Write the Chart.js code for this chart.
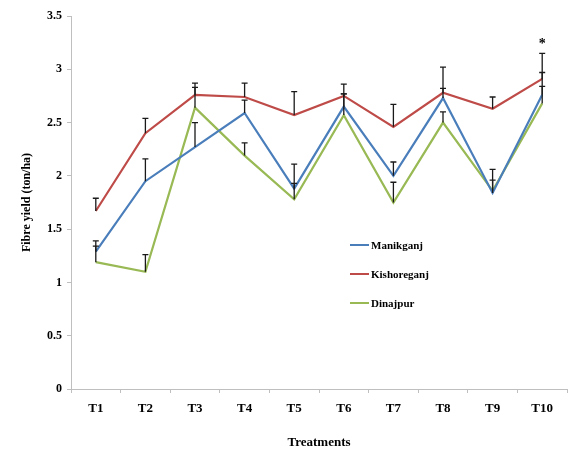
<!DOCTYPE html>
<html>
<head>
<meta charset="utf-8">
<script src="https://cdn.jsdelivr.net/npm/chart.js@4/dist/chart.umd.min.js"></script>
<style>
  html, body { margin: 0; padding: 0; background: #fff; }
  #wrap { width: 570px; height: 450px; }
</style>
</head>
<body>
<div id="wrap"><canvas id="fibreChart" width="570" height="450"></canvas></div>
<script>
// treatments on the x axis
const treatments = ['T1', 'T2', 'T3', 'T4', 'T5', 'T6', 'T7', 'T8', 'T9', 'T10'];

// mean fibre yield (ton/ha) per location
const manikganj   = [1.29, 1.95, 2.27, 2.59, 1.88, 2.65, 2.00, 2.73, 1.84, 2.76];
const kishoreganj = [1.67, 2.40, 2.76, 2.74, 2.57, 2.75, 2.46, 2.78, 2.63, 2.91];
const dinajpur    = [1.19, 1.10, 2.64, 2.19, 1.78, 2.57, 1.75, 2.50, 1.86, 2.68];

// upper error bars
const manikganjErr   = [0.10, 0.21, 0.23, 0.12, 0.23, 0.12, 0.13, 0.09, 0.12, 0.08];
const kishoreganjErr = [0.12, 0.14, 0.11, 0.13, 0.22, 0.11, 0.21, 0.24, 0.11, 0.24];
const dinajpurErr    = [0.15, 0.16, 0.19, 0.12, 0.15, 0.20, 0.19, 0.10, 0.20, 0.29];

// significance marks above each treatment
const significance = ['', '', '', '', '', '', '', '', '', '*'];

const serif = "'Liberation Serif', 'Times New Roman', serif";
const axisGray = '#bfbfbf';

// draws the upper error bars and the significance star
const errorBars = {
  id: 'errorBars',
  afterDatasetsDraw(chart) {
    const ctx = chart.ctx;
    const x = chart.scales.x, y = chart.scales.y;
    const tops = treatments.map(() => Infinity);
    ctx.save();
    ctx.strokeStyle = '#1a1a1a';
    ctx.lineWidth = 1.3;
    chart.data.datasets.forEach(ds => {
      ds.data.forEach((v, i) => {
        const px = x.getPixelForValue(i);
        const py = y.getPixelForValue(v);
        const pt = y.getPixelForValue(v + ds.errors[i]);
        tops[i] = Math.min(tops[i], pt);
        ctx.beginPath();
        ctx.moveTo(px, py);
        ctx.lineTo(px, pt);
        ctx.moveTo(px - 3, pt);
        ctx.lineTo(px + 3, pt);
        ctx.stroke();
      });
    });
    ctx.fillStyle = '#000';
    ctx.font = 'bold 14px ' + serif;
    ctx.textAlign = 'center';
    ctx.textBaseline = 'middle';
    significance.forEach((s, i) => {
      if (s) ctx.fillText(s, x.getPixelForValue(i), tops[i] - 9);
    });
    ctx.restore();
  }
};

// legend placed inside the plot area
const innerLegend = {
  id: 'innerLegend',
  afterDraw(chart) {
    const ctx = chart.ctx;
    ctx.save();
    ctx.font = 'bold 11px ' + serif;
    ctx.textBaseline = 'middle';
    ctx.fillStyle = '#000';
    chart.data.datasets.forEach((ds, i) => {
      const ly = 245 + i * 29;
      ctx.strokeStyle = ds.borderColor;
      ctx.lineWidth = 2;
      ctx.beginPath();
      ctx.moveTo(350, ly);
      ctx.lineTo(369, ly);
      ctx.stroke();
      ctx.fillText(ds.label, 371, ly + 1);
    });
    ctx.restore();
  }
};

const ctx = document.getElementById('fibreChart').getContext('2d');
new Chart(ctx, {
  type: 'line',
  data: {
    labels: treatments,
    datasets: [
      { label: 'Manikganj', data: manikganj, errors: manikganjErr, borderColor: '#4a7ebb' },
      { label: 'Kishoreganj', data: kishoreganj, errors: kishoreganjErr, borderColor: '#be4b48' },
      { label: 'Dinajpur', data: dinajpur, errors: dinajpurErr, borderColor: '#98b954' }
    ].map(d => Object.assign(d, { borderWidth: 2.2, pointRadius: 0, tension: 0, fill: false }))
  },
  options: {
    responsive: false,
    animation: false,
    layout: { padding: { top: 16, right: 3, left: 0, bottom: 0 } },
    plugins: { legend: { display: false }, tooltip: { enabled: false } },
    scales: {
      x: {
        offset: true,
        grid: { display: true, offset: true, drawOnChartArea: false, color: axisGray, tickLength: 4 },
        border: { color: axisGray },
        ticks: { color: '#000', padding: 8, font: { family: serif, size: 13, weight: 'bold' } },
        title: { display: true, text: 'Treatments', color: '#000', padding: { top: 0, bottom: 0 },
                 font: { family: serif, size: 13, weight: 'bold' } },
        afterFit(scale) { scale.height = 61; }
      },
      y: {
        min: 0,
        max: 3.5,
        ticks: { stepSize: 0.5, color: '#000', padding: 5, font: { family: serif, size: 12, weight: 'bold' },
                 callback: value => String(value) },
        grid: { display: true, drawOnChartArea: false, color: axisGray, tickLength: 4 },
        border: { color: axisGray },
        title: { display: true, text: 'Fibre yield (ton/ha)', color: '#000', padding: { top: 20, bottom: 0 },
                 font: { family: serif, size: 12, weight: 'bold' } },
        afterFit(scale) { scale.width = 71; }
      }
    }
  },
  plugins: [errorBars, innerLegend]
});
</script>
</body>
</html>
